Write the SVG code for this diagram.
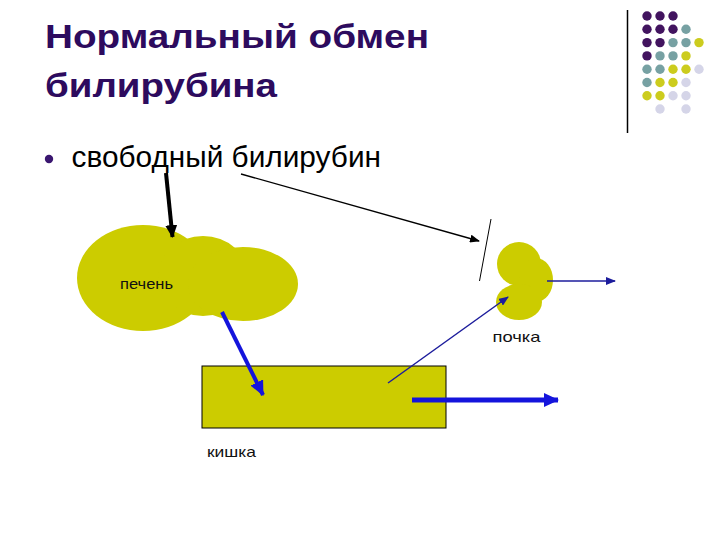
<svg xmlns="http://www.w3.org/2000/svg" width="720" height="540" viewBox="0 0 720 540">
<style>
.title{font-family:"Liberation Sans",Arial,sans-serif;font-weight:bold;font-size:33px;fill:#2d0b5e}
.body{font-family:"Liberation Sans",Arial,sans-serif;font-size:29px;fill:#000}
.lbl{font-family:"Liberation Sans",Arial,sans-serif;font-size:15px;fill:#111}
.org{fill:#cccc00}
.p{fill:#42145f}.t{fill:#77a1a3}.y{fill:#cccc1e}.l{fill:#d5d5e8}
</style>
<defs>
<marker id="ahBlack" markerUnits="userSpaceOnUse" markerWidth="14" markerHeight="12" refX="12" refY="6" orient="auto"><path d="M0,0 L13,6 L0,12 z" fill="#000"/></marker>
<marker id="ahBlackThin" markerUnits="userSpaceOnUse" markerWidth="10" markerHeight="8" refX="9" refY="4" orient="auto"><path d="M0,0 L10,4 L0,8 z" fill="#000"/></marker>
<marker id="ahBlue" markerUnits="userSpaceOnUse" markerWidth="16" markerHeight="14" refX="14" refY="7" orient="auto"><path d="M0,0 L15,7 L0,14 z" fill="#1414dc"/></marker>
<marker id="ahNavy" markerUnits="userSpaceOnUse" markerWidth="10" markerHeight="8" refX="9" refY="4" orient="auto"><path d="M0,0 L10,4 L0,8 z" fill="#1c1c9c"/></marker>
</defs>
<rect width="720" height="540" fill="#fff"/>
<g id="decor">
<line x1="627.5" y1="10" x2="627.5" y2="133" stroke="#000" stroke-width="1.5"/>
<g>
<circle class="p" cx="647" cy="16" r="4.7"/><circle class="p" cx="660" cy="16" r="4.7"/><circle class="p" cx="673" cy="16" r="4.7"/>
<circle class="p" cx="647" cy="29.3" r="4.7"/><circle class="p" cx="660" cy="29.3" r="4.7"/><circle class="p" cx="673" cy="29.3" r="4.7"/><circle class="t" cx="686" cy="29.3" r="4.7"/>
<circle class="p" cx="647" cy="42.6" r="4.7"/><circle class="p" cx="660" cy="42.6" r="4.7"/><circle class="t" cx="673" cy="42.6" r="4.7"/><circle class="t" cx="686" cy="42.6" r="4.7"/><circle class="y" cx="699" cy="42.6" r="4.7"/>
<circle class="p" cx="647" cy="55.9" r="4.7"/><circle class="t" cx="660" cy="55.9" r="4.7"/><circle class="t" cx="673" cy="55.9" r="4.7"/><circle class="y" cx="686" cy="55.9" r="4.7"/>
<circle class="t" cx="647" cy="69.2" r="4.7"/><circle class="t" cx="660" cy="69.2" r="4.7"/><circle class="y" cx="673" cy="69.2" r="4.7"/><circle class="y" cx="686" cy="69.2" r="4.7"/><circle class="l" cx="699" cy="69.2" r="4.7"/>
<circle class="t" cx="647" cy="82.5" r="4.7"/><circle class="y" cx="660" cy="82.5" r="4.7"/><circle class="y" cx="673" cy="82.5" r="4.7"/><circle class="l" cx="686" cy="82.5" r="4.7"/>
<circle class="y" cx="647" cy="95.8" r="4.7"/><circle class="y" cx="660" cy="95.8" r="4.7"/><circle class="l" cx="673" cy="95.8" r="4.7"/><circle class="l" cx="686" cy="95.8" r="4.7"/>
<circle class="l" cx="660" cy="109" r="4.7"/><circle class="l" cx="686" cy="109" r="4.7"/>
</g>
</g>
<g id="title">
<text class="title" x="45" y="48" textLength="384" lengthAdjust="spacingAndGlyphs">Нормальный обмен</text>
<text class="title" x="45" y="97" textLength="232" lengthAdjust="spacingAndGlyphs">билирубина</text>
</g>
<g id="bullet">
<circle cx="49" cy="159" r="4.2" fill="#3a1670"/>
<text class="body" x="71.5" y="167" textLength="309.5" lengthAdjust="spacingAndGlyphs">свободный билирубин</text>
</g>
<g id="liver">
<ellipse class="org" cx="143" cy="278" rx="66" ry="53"/>
<ellipse class="org" cx="203" cy="276" rx="45" ry="40"/>
<ellipse class="org" cx="243" cy="284" rx="55" ry="37"/>
<text class="lbl" x="120" y="289" textLength="53" lengthAdjust="spacingAndGlyphs">печень</text>
</g>
<g id="kidney">
<circle class="org" cx="519" cy="264" r="22"/>
<ellipse class="org" cx="536" cy="280" rx="17" ry="22"/>
<ellipse class="org" cx="519" cy="302" rx="23" ry="18"/>
<text class="lbl" x="492.5" y="342" textLength="48" lengthAdjust="spacingAndGlyphs">почка</text>
</g>
<g id="intestine">
<rect x="202" y="366" width="244" height="62" fill="#cccc00" stroke="#000" stroke-width="1"/>
<text class="lbl" x="207" y="457" textLength="49" lengthAdjust="spacingAndGlyphs">кишка</text>
</g>
<g id="connectors">
<line x1="166" y1="173" x2="172.5" y2="237" stroke="#000" stroke-width="4" marker-end="url(#ahBlack)"/>
<line x1="241" y1="174" x2="479" y2="241" stroke="#000" stroke-width="1.3" marker-end="url(#ahBlackThin)"/>
<line x1="491" y1="219" x2="479.5" y2="281" stroke="#000" stroke-width="1"/>
<line x1="222" y1="312" x2="263" y2="395" stroke="#1414dc" stroke-width="4" marker-end="url(#ahBlue)"/>
<line x1="388" y1="383" x2="508" y2="297" stroke="#1c1c9c" stroke-width="1.5" marker-end="url(#ahNavy)"/>
<line x1="547" y1="281" x2="615" y2="281" stroke="#1c1c9c" stroke-width="1.3" marker-end="url(#ahNavy)"/>
<line x1="412" y1="400" x2="558" y2="400" stroke="#1414dc" stroke-width="5" marker-end="url(#ahBlue)"/>
</g>
</svg>
